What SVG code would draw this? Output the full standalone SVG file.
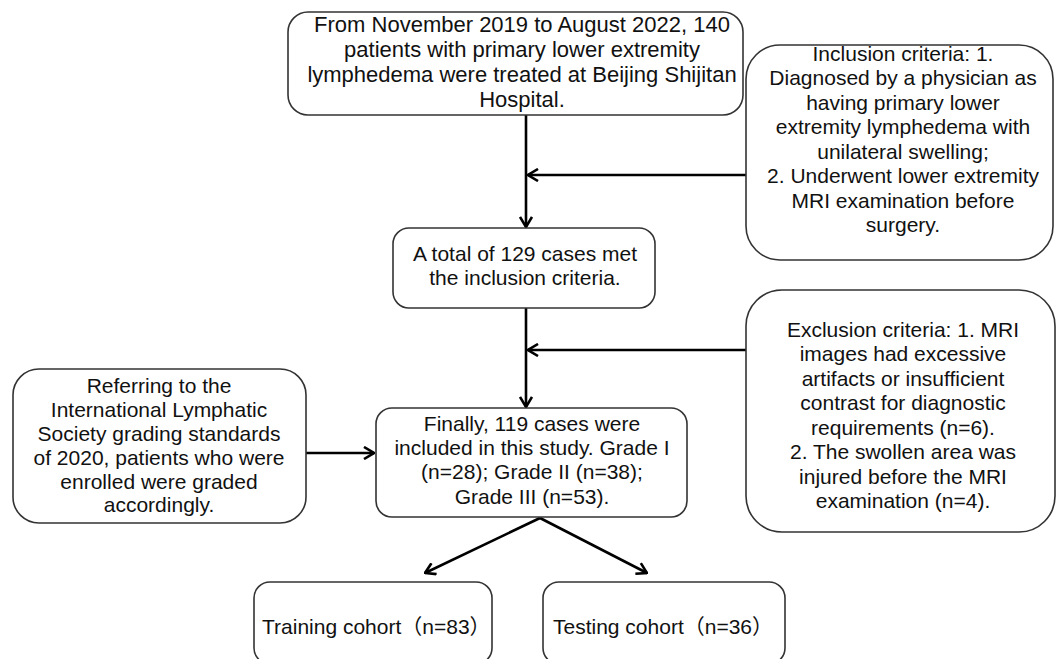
<svg xmlns="http://www.w3.org/2000/svg" width="1057" height="659" viewBox="0 0 1057 659">
<defs>
<style>
.box{fill:#fff;stroke:#333;stroke-width:1.6}
.t{font-family:"Liberation Sans",Arial,sans-serif;font-size:21px;fill:#111;text-anchor:middle}
.tl{font-family:"Liberation Sans","Noto Sans CJK SC",sans-serif;font-size:21px;fill:#111}
.c{fill:none;stroke:#000;stroke-width:2.6}
</style>
<marker id="ah" viewBox="0 0 12 14" refX="11" refY="7" markerWidth="12" markerHeight="14" markerUnits="userSpaceOnUse" orient="auto">
<path d="M1,1 L11,7 L1,13" fill="none" stroke="#000" stroke-width="2.6"/>
</marker>
</defs>
<rect width="1057" height="659" fill="#fff"/>
<g id="connectors">
<line class="c" x1="526" y1="115" x2="526" y2="227" marker-end="url(#ah)"/>
<line class="c" x1="746" y1="175" x2="528" y2="175" marker-end="url(#ah)"/>
<line class="c" x1="526" y1="308" x2="526" y2="407" marker-end="url(#ah)"/>
<line class="c" x1="746" y1="350" x2="528" y2="350" marker-end="url(#ah)"/>
<line class="c" x1="306" y1="453" x2="374" y2="453" marker-end="url(#ah)"/>
<line class="c" x1="540" y1="518" x2="425" y2="573" marker-end="url(#ah)"/>
<line class="c" x1="540" y1="518" x2="647" y2="573" marker-end="url(#ah)"/>
</g>
<g id="n1">
<rect class="box" x="288" y="12" width="455" height="103" rx="20"/>
<text class="t" style="font-size:22px"><tspan x="522" y="32">From November 2019 to August 2022, 140</tspan><tspan x="522" y="57">patients with primary lower extremity</tspan><tspan x="522" y="82">lymphedema were treated at Beijing Shijitan</tspan><tspan x="522" y="107">Hospital.</tspan></text>
</g>
<g id="inclusion">
<rect class="box" x="746" y="45" width="307" height="215" rx="34"/>
<text class="t"><tspan x="903" y="61">Inclusion criteria: 1.</tspan><tspan x="903" y="85">Diagnosed by a physician as</tspan><tspan x="903" y="110">having primary lower</tspan><tspan x="903" y="134">extremity lymphedema with</tspan><tspan x="903" y="159">unilateral swelling;</tspan><tspan x="903" y="183">2. Underwent lower extremity</tspan><tspan x="903" y="208">MRI examination before</tspan><tspan x="903" y="232">surgery.</tspan></text>
</g>
<g id="n2">
<rect class="box" x="393" y="228" width="262" height="80" rx="16"/>
<text class="t"><tspan x="525" y="261">A total of 129 cases met</tspan><tspan x="525" y="285">the inclusion criteria.</tspan></text>
</g>
<g id="exclusion">
<rect class="box" x="746" y="290" width="309" height="242" rx="36"/>
<text class="t"><tspan x="903" y="337">Exclusion criteria: 1. MRI</tspan><tspan x="903" y="361">images had excessive</tspan><tspan x="903" y="386">artifacts or insufficient</tspan><tspan x="903" y="410">contrast for diagnostic</tspan><tspan x="903" y="435">requirements (n=6).</tspan><tspan x="903" y="459">2. The swollen area was</tspan><tspan x="903" y="484">injured before the MRI</tspan><tspan x="903" y="508">examination (n=4).</tspan></text>
</g>
<g id="grading">
<rect class="box" x="13" y="369" width="293" height="154" rx="26"/>
<text class="t"><tspan x="159" y="393">Referring to the</tspan><tspan x="159" y="417">International Lymphatic</tspan><tspan x="159" y="441">Society grading standards</tspan><tspan x="159" y="465">of 2020, patients who were</tspan><tspan x="159" y="489">enrolled were graded</tspan><tspan x="159" y="512">accordingly.</tspan></text>
</g>
<g id="n3">
<rect class="box" x="376" y="408" width="311" height="109" rx="16"/>
<text class="t"><tspan x="532" y="431">Finally, 119 cases were</tspan><tspan x="532" y="455">included in this study. Grade I</tspan><tspan x="532" y="479">(n=28); Grade II (n=38);</tspan><tspan x="532" y="504">Grade III (n=53).</tspan></text>
</g>
<g id="training">
<rect class="box" x="254" y="582" width="238" height="82" rx="16"/>
<text class="tl" x="262" y="634">Training cohort（n=83）</text>
</g>
<g id="testing">
<rect class="box" x="543" y="582" width="242" height="82" rx="16"/>
<text class="tl" x="553" y="634">Testing cohort（n=36）</text>
</g>
</svg>
